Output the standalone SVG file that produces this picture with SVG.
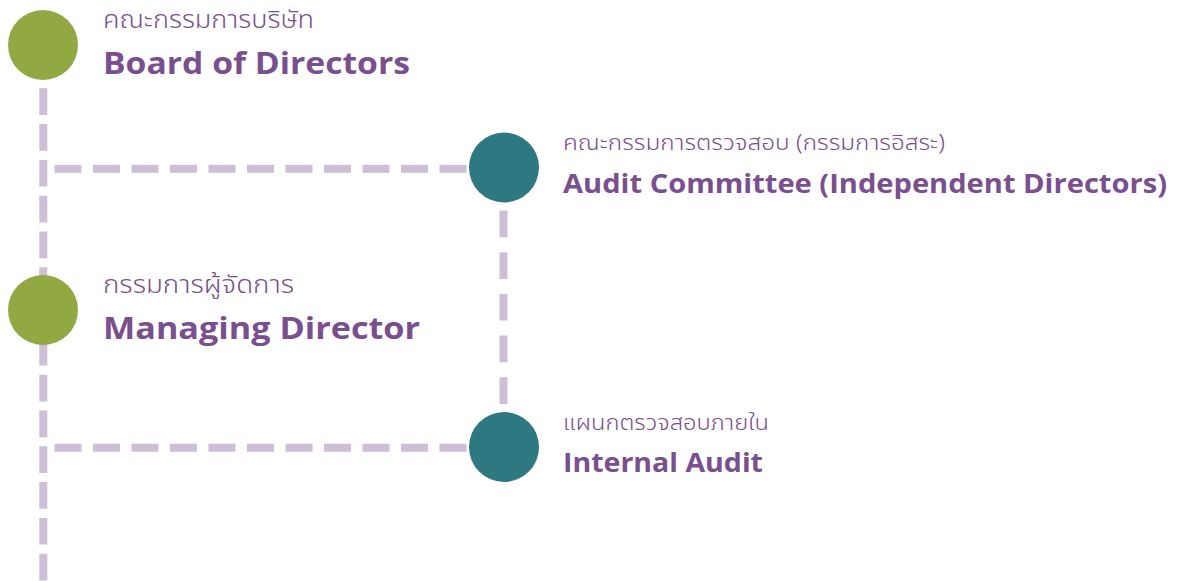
<svg xmlns="http://www.w3.org/2000/svg" width="1178" height="581" viewBox="0 0 1178 581">
  <style>
    .link { fill: none; stroke: #CDBFD6; stroke-width: 8; }
    .spine { stroke-dasharray: 26.7 9.1; }
    .branch { stroke-dasharray: 27 11.5; }
    .drop { stroke-dasharray: 26.7 15; }
    .green { fill: #92A843; }
    .teal { fill: #2E7981; }
    .th { font-family: "Noto Sans Thai", "Noto Sans", "DejaVu Sans", sans-serif; font-weight: 300; fill: #7A4F8E; }
    .en { font-family: "Open Sans", "Liberation Sans", sans-serif; font-weight: 700; fill: #7A4F8E; }
  </style>
  <rect width="1178" height="581" fill="#FFFFFF"/>

  <!-- dashed connectors -->
  <g id="connectors">
    <line class="link spine" x1="43.3" y1="88.3" x2="43.3" y2="581"/>
    <line class="link branch" x1="54.5" y1="168.7" x2="467" y2="168.7"/>
    <line class="link drop" x1="503.5" y1="210.5" x2="503.5" y2="404"/>
    <line class="link branch" x1="54.5" y1="447.7" x2="467" y2="447.7"/>
  </g>

  <g id="board">
    <circle class="green" cx="43" cy="45" r="35"/>
    <text class="th" x="103" y="28" font-size="25" textLength="211" lengthAdjust="spacingAndGlyphs">คณะกรรมการบริษัท</text>
    <text class="en" x="103" y="74" font-size="31" textLength="307" lengthAdjust="spacingAndGlyphs">Board of Directors</text>
  </g>

  <g id="audit-committee">
    <circle class="teal" cx="504" cy="167.5" r="35"/>
    <text class="th" x="563" y="150" font-size="22" textLength="382" lengthAdjust="spacingAndGlyphs">คณะกรรมการตรวจสอบ (กรรมการอิสระ)</text>
    <text class="en" x="563" y="193" font-size="27" textLength="604" lengthAdjust="spacingAndGlyphs">Audit Committee (Independent Directors)</text>
  </g>

  <g id="managing-director">
    <circle class="green" cx="43" cy="310" r="35"/>
    <text class="th" x="103" y="293" font-size="25" textLength="191" lengthAdjust="spacingAndGlyphs">กรรมการผู้จัดการ</text>
    <text class="en" x="103" y="339" font-size="31" textLength="317" lengthAdjust="spacingAndGlyphs">Managing Director</text>
  </g>

  <g id="internal-audit">
    <circle class="teal" cx="504" cy="447" r="35"/>
    <text class="th" x="563" y="430" font-size="22" textLength="206" lengthAdjust="spacingAndGlyphs">แผนกตรวจสอบภายใน</text>
    <text class="en" x="563" y="472" font-size="27" textLength="200" lengthAdjust="spacingAndGlyphs">Internal Audit</text>
  </g>
</svg>
